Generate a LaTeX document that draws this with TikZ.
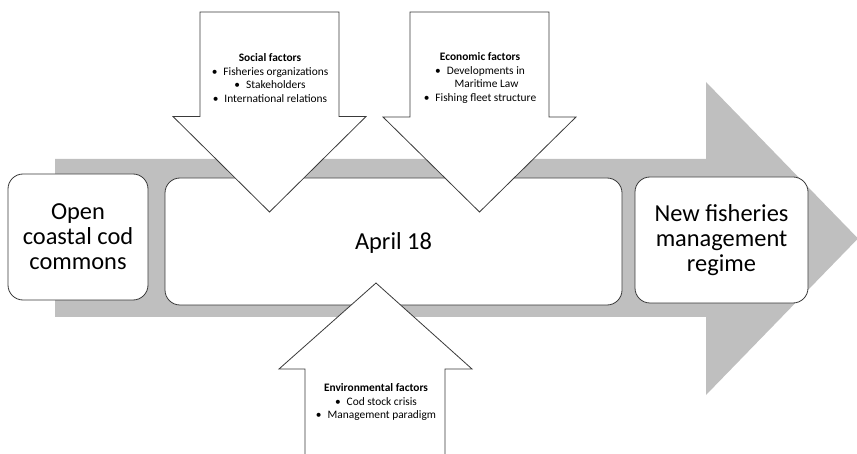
\documentclass[tikz,border=0pt]{standalone}
\usepackage{fontspec}
\setmainfont{Carlito}
\definecolor{arrowgray}{HTML}{BFBFBF}
\definecolor{linegray}{HTML}{3A3A3A}
\begin{document}
\begin{tikzpicture}[x=1pt,y=-1pt,
  stagebox/.style={draw=linegray, line width=0.8pt, fill=white, rounded corners=15pt,
    align=center, inner sep=0pt, font=\fontsize{24.4}{25}\selectfont},
  factorarrow/.style={draw=linegray, line width=0.8pt, fill=white, line join=miter},
  factortext/.style={align=center, inner sep=0pt, font=\fontsize{11.4}{13.4}\selectfont},
  bigarrow/.style={fill=arrowgray}]
\useasboundingbox (0,0) rectangle (857,454);
% big grey arrow
\fill[bigarrow] (55,159) -- (706,159) -- (706,82) -- (858,238.5) -- (706,395) -- (706,317) -- (55,317) -- cycle;
% stage boxes
\node[stagebox, minimum width=140pt, minimum height=126pt] (open) at (78,237) {Open\\coastal cod\\commons};
\node[stagebox, minimum width=457pt, minimum height=127pt] (mid) at (393.5,241.5) {};
\node[stagebox, minimum width=173pt, minimum height=126pt] (new) at (721.5,240) {New fisheries\\management\\regime};
% social arrow
\draw[factorarrow] (200,12) -- (339,12) -- (339,116.5) -- (366,116.5) -- (269.5,212) -- (173,116.5) -- (200,116.5) -- cycle;
% economic arrow
\draw[factorarrow] (410,12) -- (549,12) -- (549,117) -- (576,117) -- (479.5,212) -- (383,117) -- (410,117) -- cycle;
% environmental arrow
\fill[white] (305,456) -- (305,369) -- (279,369) -- (376,283) -- (472,369) -- (445,369) -- (445,456) -- cycle;
\draw[factorarrow, fill=none] (305,456) -- (305,369) -- (279,369) -- (376,283) -- (472,369) -- (445,369) -- (445,456);
% texts
\node[font=\fontsize{24.4}{25}\selectfont] (april) at (393.5,243) {April 18};
\node[factortext] (social) at (270,78) {\textbf{Social factors}\\
  \textbullet\hspace{6pt}Fisheries organizations\\
  \textbullet\hspace{6pt}Stakeholders\\
  \textbullet\hspace{6pt}International relations};
\node[factortext] (econ) at (480,78) {\textbf{Economic factors}\\
  \textbullet\hspace{6pt}Developments in\\
  \hspace*{13pt}Maritime Law\\
  \textbullet\hspace{6pt}Fishing fleet structure};
\node[factortext] (env) at (376,402) {\textbf{Environmental factors}\\
  \textbullet\hspace{6pt}Cod stock crisis\\
  \textbullet\hspace{6pt}Management paradigm};
\end{tikzpicture}
\end{document}
